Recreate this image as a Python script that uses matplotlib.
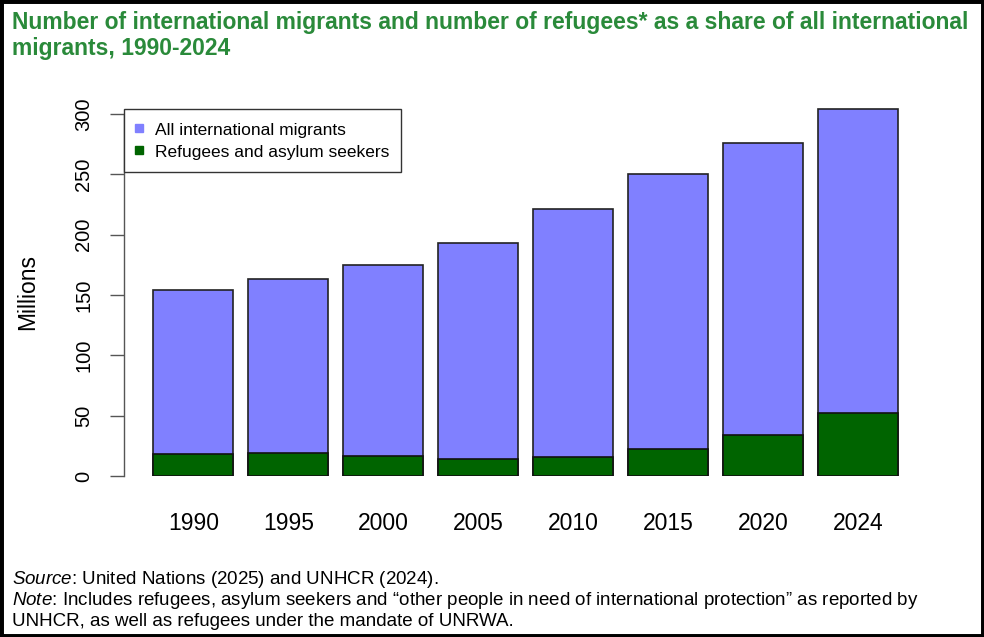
import matplotlib
matplotlib.use("Agg")
import matplotlib.pyplot as plt
from matplotlib.lines import Line2D
from matplotlib.patches import Rectangle

years = ["1990", "1995", "2000", "2005", "2010", "2015", "2020", "2024"]
all_migrants = [154.1, 163.1, 174.9, 192.8, 221.2, 250.3, 275.8, 304.2]
refugees = [18.2, 19.1, 16.2, 14.1, 15.8, 22.6, 34.0, 51.8]
yticks = [0, 50, 100, 150, 200, 250, 300]

plt.rcParams['font.family'] = ['Liberation Sans', 'DejaVu Sans']
plt.rcParams['mathtext.fontset'] = 'custom'
plt.rcParams['mathtext.it'] = 'Liberation Sans:italic'
plt.rcParams['mathtext.rm'] = 'Liberation Sans'

W, H = 984, 637
fig = plt.figure(figsize=(W / 100, H / 100), dpi=100)

blue = '#8080FF'
green = '#006400'

left_px, right_px = 124, 927.6
y0_px, ytop_px = 476, 476 - 310 * 1.2067
ax = fig.add_axes([left_px / W, 1 - y0_px / H, (right_px - left_px) / W, (y0_px - ytop_px) / H])

x = list(range(len(years)))
bw = 80 / 95
ax.bar(x, all_migrants, width=bw, color=blue, edgecolor='#222222', linewidth=1.2, zorder=2)
ax.bar(x, refugees, width=bw, color=green, edgecolor='#111111', linewidth=1.2, zorder=3)

ax.set_xlim(-0.7295, 7.7295)
ax.set_ylim(0, 310)
for s in ['top', 'right', 'bottom']:
    ax.spines[s].set_visible(False)
ax.spines['left'].set_bounds(0, 300)
ax.spines['left'].set_color('#555555')
ax.spines['left'].set_linewidth(1.0)
ax.set_yticks(yticks)
ax.set_yticklabels([str(v) for v in yticks], rotation=90, va='center', fontsize=14.5)
ax.tick_params(axis='y', length=10, width=1.0, color='#555555', pad=12)
ax.set_xticks(x)
ax.set_xticklabels(years, fontsize=16.5)
ax.tick_params(axis='x', length=0, pad=26)

fig.text(28 / W, 1 - 292 / H, 'Millions', rotation=90, ha='center', va='center', fontsize=16.5)

handles = [Line2D([], [], marker='s', linestyle='none', markersize=6, color=blue),
           Line2D([], [], marker='s', linestyle='none', markersize=6, color=green)]
leg = fig.legend(handles, ['All international migrants', 'Refugees and asylum seekers'],
                 loc='upper left', bbox_to_anchor=(124 / W, 1 - 109 / H), borderaxespad=0,
                 fontsize=12.5, frameon=True, fancybox=False, framealpha=1,
                 edgecolor='#333333', handlelength=0.3, handleheight=1.0,
                 handletextpad=0.78, borderpad=0.7, labelspacing=0.3)
leg.get_frame().set_linewidth(1.0)

title_color = '#2a8a3a'
fig.text(12 / W, 1 - 29 / H,
         'Number of international migrants and number of refugees* as a share of all international',
         ha='left', va='baseline', fontsize=16.5, fontweight='bold', color=title_color)
fig.text(12 / W, 1 - 55 / H, 'migrants, 1990-2024',
         ha='left', va='baseline', fontsize=16.5, fontweight='bold', color=title_color)

fig.text(12 / W, 1 - 584 / H, r'$\it{Source}$: United Nations (2025) and UNHCR (2024).',
         ha='left', va='baseline', fontsize=13.5)
fig.text(12 / W, 1 - 605 / H,
         r'$\it{Note}$: Includes refugees, asylum seekers and “other people in need of international protection” as reported by',
         ha='left', va='baseline', fontsize=13.5)
fig.text(12 / W, 1 - 626 / H, 'UNHCR, as well as refugees under the mandate of UNRWA.',
         ha='left', va='baseline', fontsize=13.5)

fig.patches.append(Rectangle((0, 0), 1, 1, transform=fig.transFigure, fill=False,
                             edgecolor='black', linewidth=5, zorder=10))

fig.savefig('out.png', dpi=100)
